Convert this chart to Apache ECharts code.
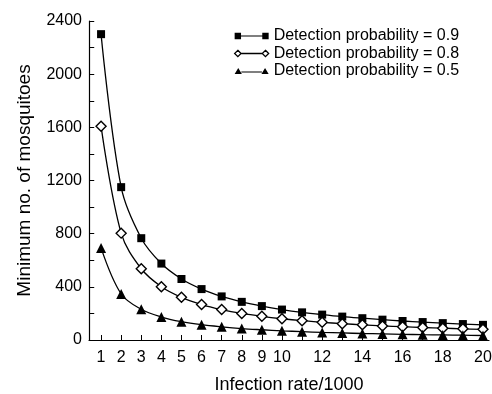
<!DOCTYPE html>
<html><head><meta charset="utf-8">
<script src="https://cdn.jsdelivr.net/npm/echarts@6/dist/echarts.min.js"></script>
<style>html,body{margin:0;padding:0;background:#fff}#c{width:492px;height:394px}</style>
</head><body><div id="c"></div>
<script>
var rates = [1,2,3,4,5,6,7,8,9,10,11,12,13,14,15,16,17,18,19,20];
var p09 = [2301,1150,766,575,459,383,328,287,255,229,208,191,176,164,153,143,135,127,120,114];
var p08 = [1609,804,536,401,321,267,229,200,178,160,145,133,123,114,106,100,94,89,84,80];
var p05 = [693,346,231,173,138,115,99,86,77,69,63,57,53,49,46,43,40,38,36,34];
var xLabels = [1,2,3,4,5,6,7,8,9,10,12,14,16,18,20];
var yTicks = [200,400,600,800,1000,1200,1400,1600,1800,2000,2200,2400];
var yLabels = [0,400,800,1200,1600,2000,2400];
var names = ['Detection probability = 0.9','Detection probability = 0.8','Detection probability = 0.5'];

var xMin = 0.4, xMax = 20.3, tickLen = 0.26;
function pairs(v){ return rates.map(function(r,i){return [r,v[i]];}); }
var font = 'Liberation Sans, Arial, sans-serif';
var chart = echarts.init(document.getElementById('c'));
var iconSq = 'path://M0,0h6v6h-6zM6,2.6h20v0.8h-20zM26,0h6v6h-6z';
var iconDi = 'path://M3,0L6,3L3,6L0,3zM6,3L26,3M29,0L32,3L29,6L26,3z';
var iconTr = 'path://M3,0L6.5,6h-7zM6,3.6h20v0.8h-20zM29,0L32.5,6h-7z';
var tickMarks = yTicks.map(function(v){ return [{coord:[xMin, v]}, {coord:[xMin + tickLen, v]}]; });
chart.setOption({
  animation:false,
  grid:{left:89,right:3,top:21,bottom:54,containLabel:false,outerBoundsMode:'none'},
  legend:{
    orient:'vertical', left:229, top:23, itemGap:1.5, itemWidth:34, itemHeight:8,
    textStyle:{fontFamily:font,fontSize:16,color:'#000'},
    data:[
      {name:names[0],icon:iconSq,itemStyle:{color:'#000',borderWidth:0}},
      {name:names[1],icon:iconDi,itemStyle:{color:'#fff',borderColor:'#000',borderWidth:1.3}},
      {name:names[2],icon:iconTr,itemStyle:{color:'#000',borderWidth:0}}
    ]
  },
  xAxis:{
    type:'value', min:xMin, max:xMax,
    name:'Infection rate/1000', nameLocation:'middle', nameGap:36,
    nameTextStyle:{fontFamily:font,fontSize:18,color:'#000'},
    axisLine:{lineStyle:{color:'#000',width:1.2}},
    axisTick:{inside:true,length:5,lineStyle:{color:'#000'},customValues:rates},
    axisLabel:{fontFamily:font,fontSize:16,color:'#000',margin:10,customValues:xLabels},
    splitLine:{show:false}
  },
  yAxis:{
    type:'value', min:0, max:2400, interval:200,
    name:'Minimum no. of mosquitoes', nameLocation:'middle', nameGap:55, nameRotate:90,
    nameTextStyle:{fontFamily:font,fontSize:19,color:'#000'},
    axisLine:{show:true,lineStyle:{color:'#000',width:1.2}},
    axisTick:{show:false},
    axisLabel:{fontFamily:font,fontSize:16,color:'#000',margin:7,customValues:yLabels,
      formatter:function(v){return String(v);}},
    splitLine:{show:false}
  },
  series:[
    {name:names[0],type:'line',smooth:0.35,data:pairs(p09),symbol:'rect',symbolSize:8,
     lineStyle:{color:'#000',width:1.3},itemStyle:{color:'#000'},
     markLine:{silent:true,animation:false,symbol:['none','none'],label:{show:false},
       lineStyle:{color:'#000',width:1,type:'solid'},emphasis:{disabled:true},data:tickMarks}},
    {name:names[1],type:'line',smooth:0.35,data:pairs(p08),symbol:'diamond',symbolSize:10,
     lineStyle:{color:'#000',width:1.3},itemStyle:{color:'#fff',borderColor:'#000',borderWidth:1.4}},
    {name:names[2],type:'line',smooth:0.35,data:pairs(p05),symbol:'triangle',symbolSize:10,
     lineStyle:{color:'#000',width:1.3},itemStyle:{color:'#000'}}
  ]
});
</script></body></html>
